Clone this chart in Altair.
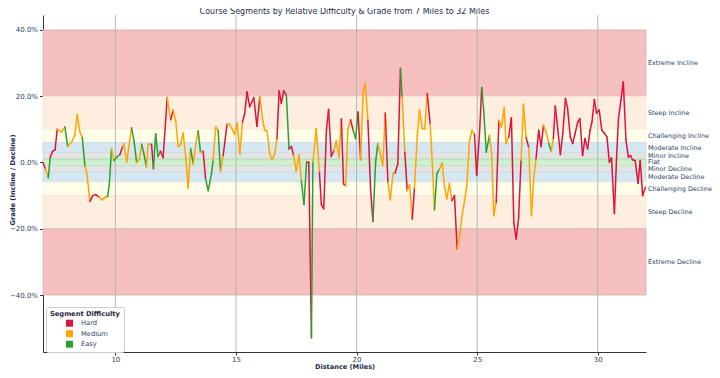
import altair as alt
import pandas as pd

TITLE = "Course Segments by Relative Difficulty & Grade from 7 Miles to 32 Miles"

# ---- data ----
distance = [
    7.00, 7.10, 7.22, 7.30, 7.40, 7.50, 7.59, 7.77, 7.91, 8.02, 8.19, 8.32, 8.42, 8.53, 8.63, 8.74, 8.81, 8.95,
    9.06, 9.19, 9.33, 9.46, 9.57, 9.68, 9.75, 9.84, 9.94, 10.08, 10.19, 10.30, 10.35, 10.47, 10.67, 10.78, 10.88,
    10.99, 11.09, 11.19, 11.29, 11.36, 11.50, 11.58, 11.67, 11.77, 11.87, 11.98, 12.15, 12.29, 12.40, 12.51, 12.60,
    12.70, 12.81, 12.92, 13.02, 13.12, 13.23, 13.34, 13.43, 13.53, 13.64, 13.74, 13.85, 13.99, 14.05, 14.16, 14.26,
    14.36, 14.47, 14.63, 14.74, 14.95, 15.05, 15.16, 15.27, 15.36, 15.46, 15.57, 15.74, 15.87, 15.99, 16.10, 16.19,
    16.29, 16.40, 16.49, 16.61, 16.70, 16.79, 16.88, 16.98, 17.09, 17.20, 17.30, 17.39, 17.50, 17.61, 17.71, 17.82,
    17.93, 18.02, 18.13, 18.19, 18.33, 18.46, 18.54, 18.64, 18.75, 18.84, 18.95, 19.06, 19.16, 19.27, 19.37, 19.46,
    19.55, 19.64, 19.75, 19.85, 19.96, 20.06, 20.17, 20.27, 20.36, 20.47, 20.58, 20.68, 20.79, 20.88, 21.00, 21.09,
    21.19, 21.30, 21.40, 21.51, 21.60, 21.71, 21.82, 21.89, 22.00, 22.10, 22.20, 22.31, 22.40, 22.52, 22.61, 22.72,
    22.83, 22.93, 23.05, 23.14, 23.23, 23.33, 23.44, 23.55, 23.65, 23.74, 23.85, 23.95, 24.06, 24.17, 24.27, 24.36,
    24.47, 24.57, 24.68, 24.78, 24.89, 24.98, 25.10, 25.19, 25.27, 25.38, 25.51, 25.60, 25.69, 25.79, 25.90, 26.01,
    26.12, 26.20, 26.31, 26.42, 26.52, 26.62, 26.72, 26.82, 26.92, 27.03, 27.14, 27.25, 27.34, 27.44, 27.55, 27.65,
    27.75, 27.86, 27.97, 28.07, 28.16, 28.24, 28.34, 28.45, 28.55, 28.66, 28.75, 28.86, 28.96, 29.06, 29.17, 29.26,
    29.37, 29.47, 29.58, 29.68, 29.76, 29.86, 29.95, 30.06, 30.17, 30.27, 30.38, 30.48, 30.57, 30.69, 30.78, 30.86,
    30.96, 31.06, 31.17, 31.27, 31.36, 31.44, 31.55, 31.67, 31.76, 31.86, 31.98,
]
grade = [
    0.0, -2.0, -4.6, 1.6, 3.4, 3.8, 10.0, 9.2, 10.7, 4.8, 6.2, 8.2, 14.4, 9.2, 7.5, -1.2, -2.9, -11.8,
    -10.0, -9.7, -10.5, -11.3, -10.5, -10.3, -6.5, 4.1, 0.6, 1.8, 2.4, 4.8, 5.7, 0.1, 10.5, 6.2, 0.0,
    0.8, 5.5, 2.4, -1.4, 5.5, 5.5, -1.9, 8.7, 1.8, 3.4, 1.4, 19.6, 12.9, 15.8, 12.2, 4.8,
    5.2, 8.9, 1.6, -7.7, 4.1, -0.4, 5.7, 9.5, 3.1, 3.4, -4.9, -8.5, -3.2, 0.6, 10.7, 9.7,
    -2.6, 2.1, 11.5, 11.5, 8.5, 11.9, 2.5, 12.2, 14.7, 21.3, 16.8, 19.6, 10.9, 19.8, 13.2, 9.7,
    9.5, 2.6, 0.8, 2.6, 7.2, 21.6, 17.8, 21.6, 20.3, 4.1, 4.8, 2.1, -2.6, 2.4, -5.5, -12.7,
    0.1, 0.1, -52.9, 0.1, 10.2, -3.0, -12.7, -14.0, 9.7, 16.0, 1.8, 3.6, 6.5, 1.6, 13.2, -6.5,
    -7.0, 9.9, 12.9, 9.9, 7.2, 15.2, 0.8, 21.0, 24.0, 12.7, -8.0, -17.8, 0.1, 5.7, 2.1, -0.9,
    14.9, -6.0, -11.3, -3.4, -3.2, -0.4, 28.4, 19.8, 3.1, -8.5, -6.7, -17.1, -7.7, 8.2, 15.8, 10.2,
    10.2, 20.8, 11.7, 0.0, -14.3, -3.4, -1.9, -0.2, -7.5, -11.0, -6.3, -11.5, -10.0, -26.2, -22.6, -16.6,
    -12.0, -7.0, 6.2, 9.7, 8.5, -3.9, 9.2, 22.6, 15.8, 3.1, 8.2, 2.6, -16.1, -12.0, 12.7, 10.7,
    16.6, 5.7, 7.7, 13.5, -18.4, -23.1, -16.6, 0.6, 17.6, 7.5, 4.5, -16.1, -5.2, 1.1, 9.7, 4.8,
    11.2, 9.2, 5.7, 3.4, 7.2, 17.0, 10.2, 2.4, 8.7, 19.3, 16.3, 7.7, 5.7, 8.7, 12.2, 13.2,
    2.1, 7.2, 4.1, 9.7, 12.2, 19.0, 14.9, 15.8, 9.7, 8.9, 7.7, 0.1, 1.4, -15.4, 1.6, 13.2,
    18.8, 24.3, 6.7, 1.6, 2.1, 0.8, 0.6, -6.3, 0.6, -10.0, -7.5,
]
# difficulty of the segment that starts at each point (H = Hard, M = Medium, E = Easy)
difficulty = list(
    "HMEHHHMMEMMMMMEMMHHHMMMEEMEEHMMMEEMMEEMMHEEEHHMHMMMMMMMEMMEMHEEEMMEMHMMMMMHHHHHHMMMMMMMHHHHEHHMMMEEHHEMMHHHHHHMMMHHMMHEEHMMMHHEEMMMHMMMHHEMHMMHMMMMMHMMEEMMMMMHHMMMMMMMHHHEEEMMMHMMMMHHHHHMMHMMMHHHMMEMH"
)
difficulty += ["H"] * (len(distance) - len(difficulty))

levels = ["Hard", "Medium", "Easy"]
level_colors = ["#dc143c", "#ffa500", "#2ca02c"]
code_name = {"H": "Hard", "M": "Medium", "E": "Easy"}

band_names = ["Extreme Incline", "Steep Incline", "Challenging Incline", "Moderate Incline", "Minor Incline",
              "Flat", "Minor Decline", "Moderate Decline", "Challenging Decline", "Steep Decline", "Extreme Decline"]
band_lo = [20, 10, 6, 3, 1, -1, -3, -6, -10, -20, -40]
band_hi = [40, 20, 10, 6, 3, 1, -1, -3, -6, -10, -20]
band_fill = ["#f5bfbf", "#fdeee0", "#fffde8", "#d5e8f1", "#e4e4e4", "#cdf0cd",
             "#e4e4e4", "#d5e8f1", "#fffde8", "#fdeee0", "#f5bfbf"]
band_edge = ["#cdb5b5", "#f6e2cf", "#fbf6dc", "#c3dbe6", "#d4dbe0", "#9edc9e",
             "#d4dbe0", "#c3dbe6", "#fbf6dc", "#f6e2cf", "#cdb5b5"]

x_ticks = [10, 15, 20, 25, 30]
y_ticks = [-40, -20, 0, 20, 40]

# ---- tables built from the arrays ----
n = len(distance)
seg = pd.DataFrame({
    "x": distance[:-1], "y": grade[:-1],
    "x2": distance[1:], "y2": grade[1:],
    "Difficulty": [code_name[c] for c in difficulty[: n - 1]],
})
bands = pd.DataFrame({
    "name": band_names, "lo": band_lo, "hi": band_hi,
    "fill": band_fill, "edge": band_edge,
    "mid": [(a + b) / 2 for a, b in zip(band_lo, band_hi)],
})
grid = pd.DataFrame({"g": x_ticks})
legend_df = pd.DataFrame({"Difficulty": levels})

W, H = 603, 337
FONT = "DejaVu Sans"
TXT = "#2a3f5f"

xs = alt.Scale(domain=[7, 32], nice=False, zero=False)
ys = alt.Scale(domain=[-57.2, 44.5], nice=False, zero=False)
cs = alt.Scale(domain=levels, range=level_colors)

# squares drawn outside the view: they only carry the legend
legend_layer = alt.Chart(legend_df).mark_square(size=49, filled=True, opacity=1).encode(
    x=alt.value(-500), y=alt.value(-500),
    color=alt.Color("Difficulty:N", scale=cs, legend=alt.Legend(
        title="Segment Difficulty", orient="none", legendX=3, legendY=292,
        titleFontSize=6.7, titleFontWeight="bold", titleColor="#1f2d4a",
        labelFontSize=6.7, labelColor=TXT, symbolType="square", symbolSize=49,
        symbolStrokeWidth=0, symbolOffset=16, labelOffset=8, fillColor="white",
        strokeColor="#cccccc", padding=4, cornerRadius=2, rowPadding=2.5,
        titlePadding=2,
    )),
)

band_layer = alt.Chart(bands).mark_rect(strokeWidth=0.8).encode(
    x=alt.value(0), x2=alt.value(W),
    y=alt.Y("lo:Q", scale=ys), y2="hi:Q",
    fill=alt.Fill("fill:N", scale=None),
    stroke=alt.Stroke("edge:N", scale=None),
)

grid_layer = alt.Chart(grid).mark_rule(color="#b0b0b0", strokeWidth=0.9).encode(
    x=alt.X("g:Q", scale=xs)
)

line_layer = alt.Chart(seg).mark_rule(strokeWidth=1.5, strokeCap="round").encode(
    x=alt.X("x:Q", scale=xs, axis=alt.Axis(
        values=x_ticks, title="Distance (Miles)", grid=False, labelFontSize=7, labelColor=TXT,
        tickSize=3, tickColor="#333333", domainColor="#333333", labelPadding=0.5,
        titleFontSize=6.6, titleFontWeight="bold", titleColor="#1f2d4a",
        titleBaseline="alphabetic", titleY=16.5,
    )),
    y=alt.Y("y:Q", scale=ys, axis=alt.Axis(
        values=y_ticks, title="Grade (Incline / Decline)", grid=False, labelFontSize=7, labelColor=TXT,
        labelExpr="format(datum.value, '.1f') + '%'",
        tickSize=3.5, tickColor="#333333", domainColor="#333333", labelPadding=2,
        titleFontSize=6.7, titleFontWeight="bold", titleColor="#1f2d4a",
        titleBaseline="middle", titleX=-30.5, titleY=H / 2 - 4,
    )),
    x2="x2:Q", y2="y2:Q",
    color=alt.Color("Difficulty:N", scale=cs),
)

label_layer = alt.Chart(bands).mark_text(
    align="left", baseline="middle", dx=2, fontSize=6.4, color=TXT, font=FONT
).encode(
    x=alt.datum(32, scale=xs),
    y=alt.Y("mid:Q", scale=ys),
    text="name:N",
)

title_layer = alt.Chart(pd.DataFrame({"t": [TITLE]})).mark_text(
    align="center", baseline="middle", fontSize=8, color="#1f2d4a", font=FONT
).encode(
    x=alt.value(W / 2), y=alt.value(-3), text="t:N"
)

chart = alt.layer(legend_layer, band_layer, grid_layer, line_layer, label_layer, title_layer).properties(
    width=W, height=H,
    autosize=alt.AutoSizeParams(type="none"),
    padding={"left": 35, "top": 7, "right": 66, "bottom": 18},
).configure(font=FONT).configure_view(stroke=None)

chart.save("out.html", embed_options={"renderer": "svg", "actions": False})
